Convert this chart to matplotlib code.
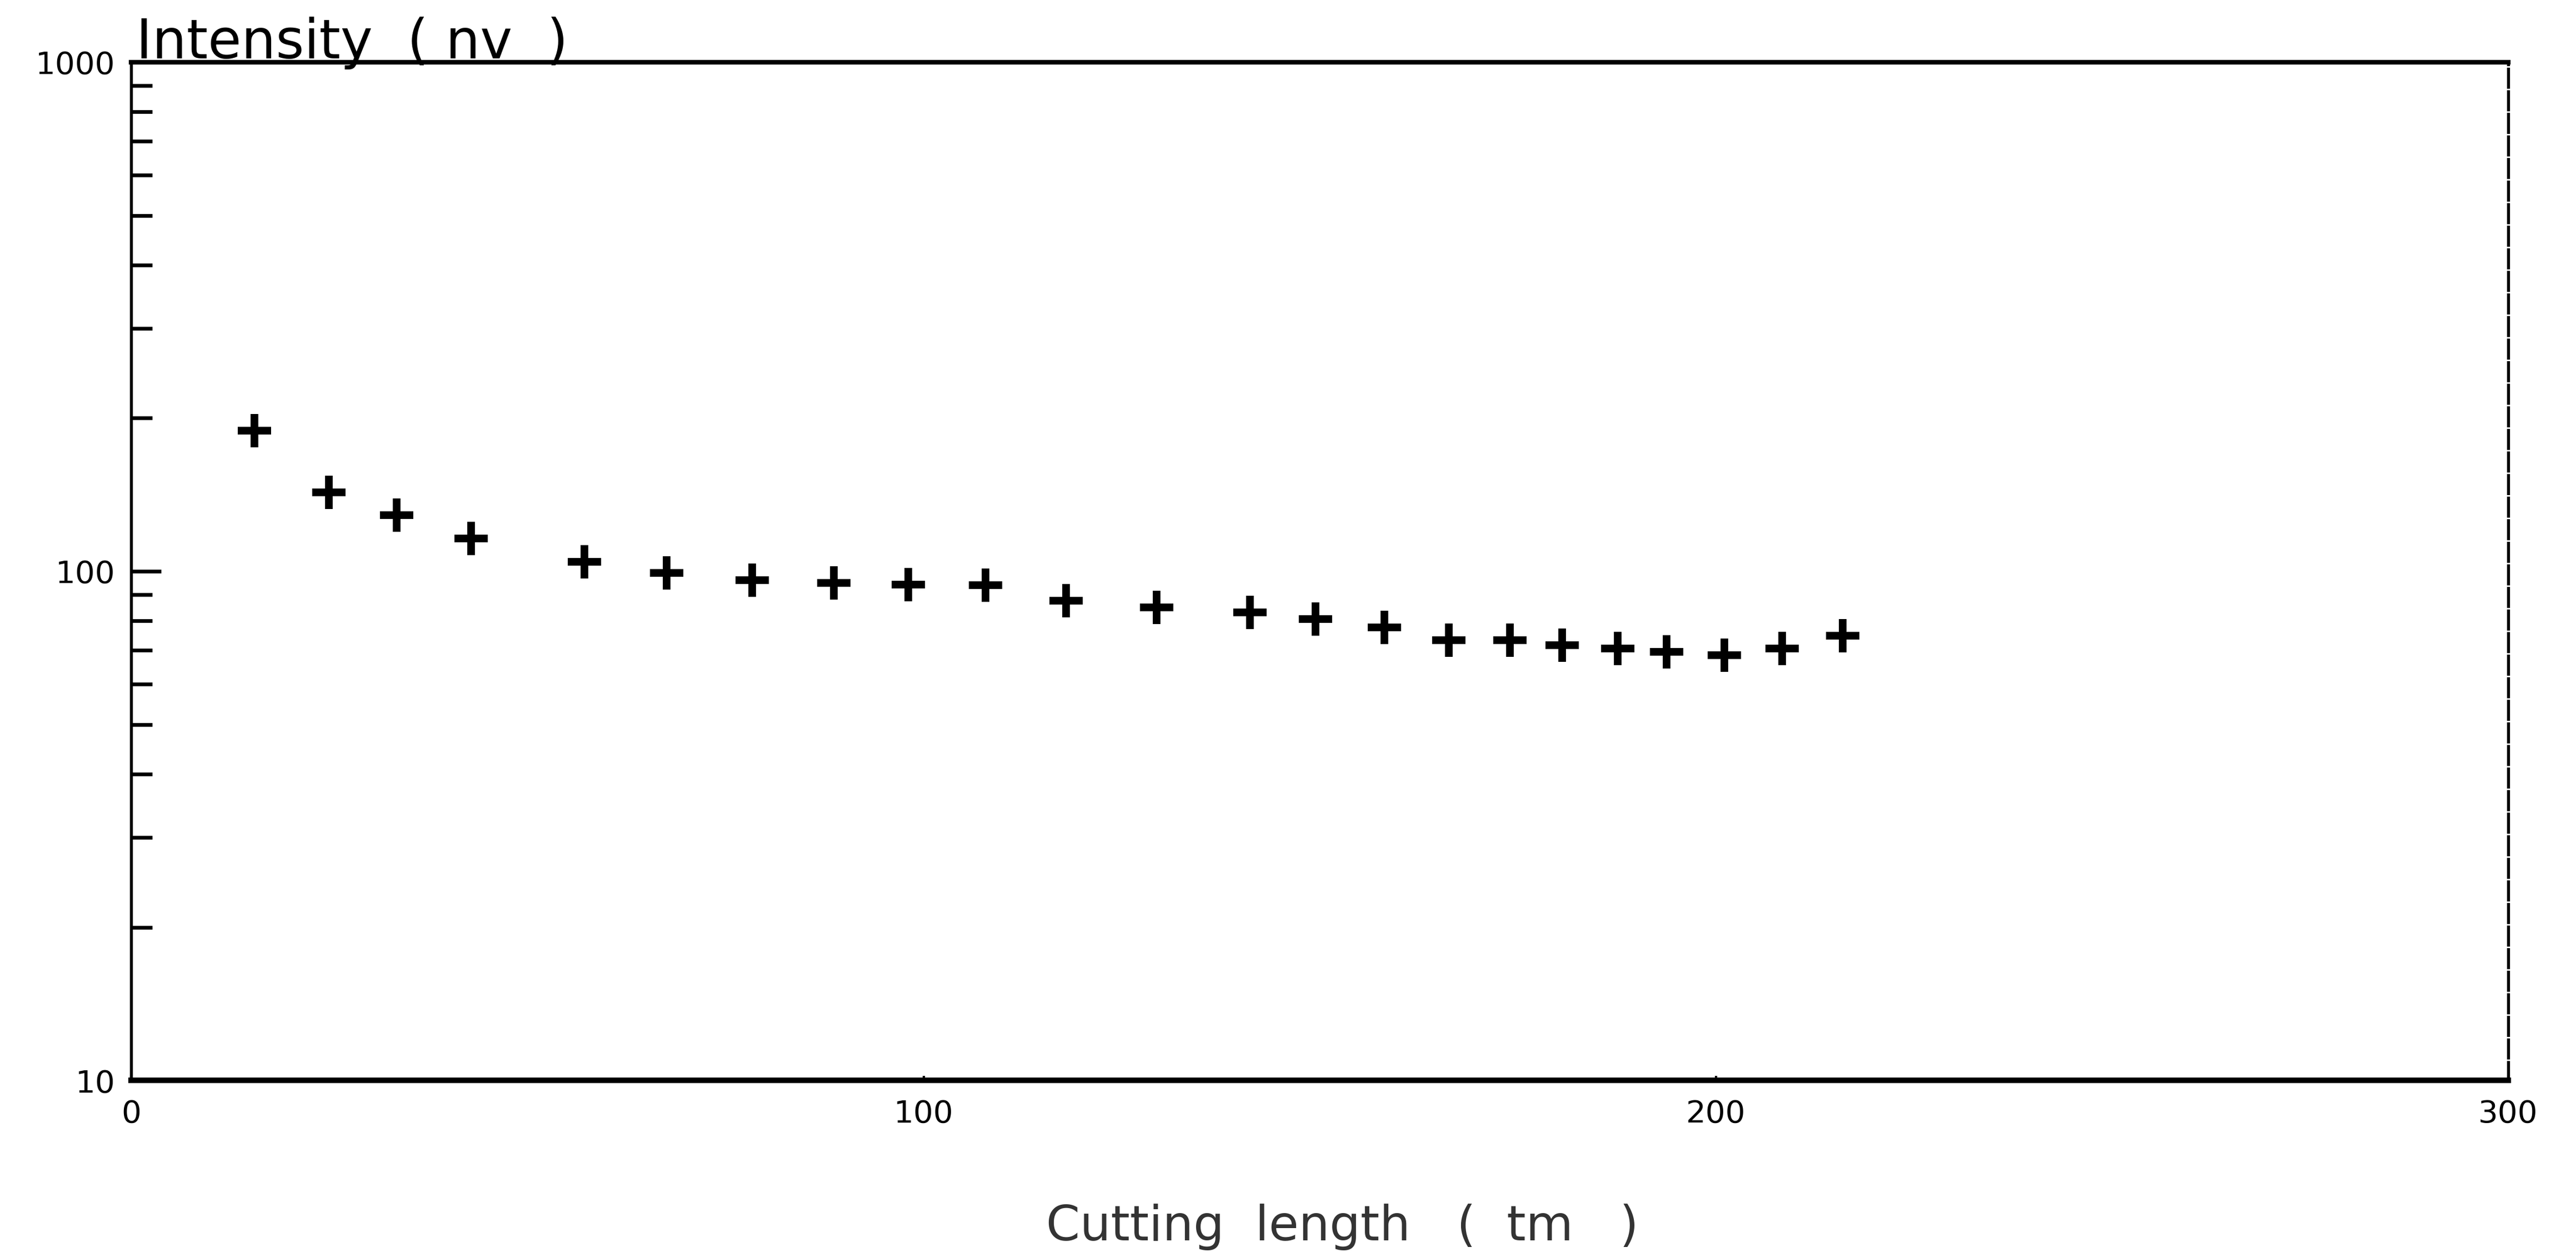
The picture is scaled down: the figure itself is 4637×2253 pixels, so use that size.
import numpy as np
import matplotlib.pyplot as plt
from matplotlib.ticker import LogLocator, NullFormatter, FixedFormatter, FixedLocator

plt.rcParams['font.family'] = ['DejaVu Sans']

# Data
cutting_length = [15.5, 24.9, 33.5, 42.9, 57.2, 67.6, 78.4, 88.7, 98.1, 107.8,
                  118.0, 129.4, 141.2, 149.5, 158.2, 166.3, 174.0, 180.6, 187.6,
                  193.8, 201.1, 208.4, 216.0]
intensity = [189, 143, 129, 116, 104.5, 99.3, 96.0, 95.0, 94.3, 94.0,
             87.5, 84.9, 83.0, 80.6, 77.6, 73.2, 73.2, 71.6, 70.5,
             69.5, 68.4, 70.5, 74.8]

x_ticks = [0, 100, 200, 300]
x_tick_labels = ['0', '100', '200', '300']
y_ticks = [10, 100, 1000]
y_tick_labels = ['10', '100', '1000']

W, H, DPI = 4637, 2253, 300
fig = plt.figure(figsize=(W / DPI, H / DPI), dpi=DPI)
ax = fig.add_axes([0.051, 0.137, 0.9226, 0.8133])

ax.plot(cutting_length, intensity, linestyle='none', marker='+',
        markersize=14.5, markeredgewidth=3.3, color='black')

ax.set_yscale('log')
ax.set_xlim(0, 300)
ax.set_ylim(10, 1000)

ax.yaxis.set_major_locator(FixedLocator(y_ticks))
ax.yaxis.set_major_formatter(FixedFormatter(y_tick_labels))
ax.yaxis.set_minor_locator(LogLocator(base=10, subs=np.arange(2, 10)))
ax.yaxis.set_minor_formatter(NullFormatter())
ax.tick_params(axis='y', which='major', direction='in', length=13, width=1.6,
               labelsize=13.5, pad=7)
ax.tick_params(axis='y', which='minor', direction='in', length=9, width=1.6)

ax.set_xticks(x_ticks)
ax.set_xticklabels(x_tick_labels)
ax.tick_params(axis='x', which='major', direction='in', length=2, width=1,
               labelsize=13.5, pad=8)

for side, lw in [('left', 1.3), ('bottom', 2.4), ('top', 2.0), ('right', 1.3)]:
    ax.spines[side].set_linewidth(lw)
ax.spines['right'].set_linestyle((0, (6, 1.5)))

# axis titles placed like the original
ax.text(0.002, 1.004, 'Intensity  ( nv  )', transform=ax.transAxes,
        ha='left', va='baseline', fontsize=23.5)
fig.text(0.521, 0.02, 'Cutting  length   (  tm   )', ha='center', va='center',
         fontsize=21, color='#333333')

fig.savefig('out.png', dpi=DPI, facecolor='white')
